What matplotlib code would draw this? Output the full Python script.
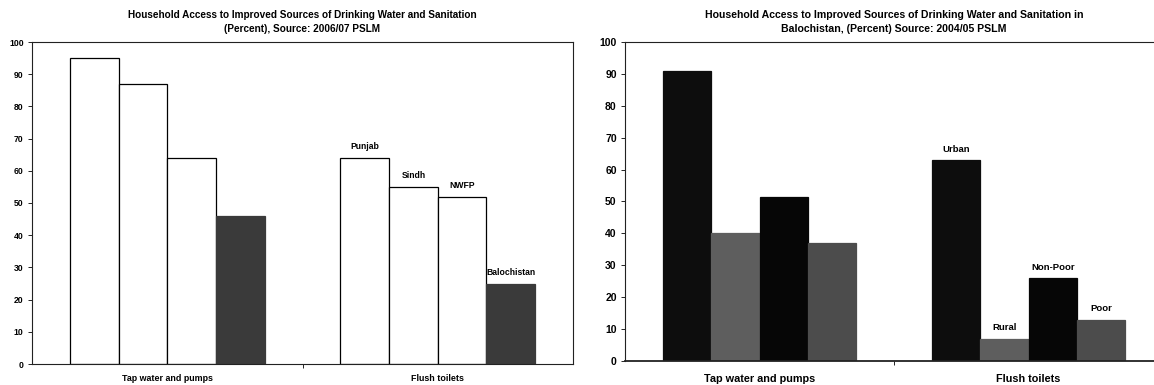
import matplotlib
matplotlib.use("Agg")
import matplotlib.pyplot as plt
import numpy as np

plt.rcParams['font.family'] = ['Liberation Sans', 'DejaVu Sans']
plt.rcParams['font.weight'] = 'bold'

groups = ["Tap water and pumps", "Flush toilets"]

left_series = ["Punjab", "Sindh", "NWFP", "Balochistan"]
left_values = [[95, 87, 64, 46],   # tap water
               [64, 55, 52, 25]]   # flush toilets
left_colors = ["white", "white", "white", "#3a3a3a"]

right_series = ["Urban", "Rural", "Non-Poor", "Poor"]
right_values = [[91, 40, 51.5, 37],
                [63, 7, 26, 13]]
right_colors = ["#0d0d0d", "#5e5e5e", "#060606", "#4c4c4c"]

left_title = "Household Access to Improved Sources of Drinking Water and Sanitation\n(Percent), Source: 2006/07 PSLM"
right_title = "Household Access to Improved Sources of Drinking Water and Sanitation in\nBalochistan, (Percent) Source: 2004/05 PSLM"

fig = plt.figure(figsize=(11.54, 3.85), dpi=100)
axL = fig.add_axes([32/1154, 21/385, 541/1154, 322/385])
axR = fig.add_axes([625/1154, 24/385, 538/1154, 319/385])

def draw(ax, values, series, colors, title, fs_tick, fs_lab, fs_xlab, fs_title, edge, xpad):
    n = len(series)
    w = 0.18
    x = np.arange(len(groups))
    vals = np.array(values)
    for i in range(n):
        pos = x + (i - (n - 1) / 2) * w
        bars = ax.bar(pos, vals[:, i], width=w, color=colors[i],
                      edgecolor=edge[i], linewidth=0.9)
        # label only on the second group
        b = bars[1]
        ax.text(b.get_x() + b.get_width() / 2, b.get_height() + 2.0, series[i],
                ha='center', va='bottom', fontsize=fs_lab, fontweight='bold')
    ax.set_xlim(-0.5, 1.5)
    ax.set_ylim(0, 100)
    ax.set_yticks(range(0, 101, 10))
    ax.set_xticks(x)
    ax.set_xticklabels(groups, fontsize=fs_xlab, fontweight='bold')
    ax.set_xticks([0.5], minor=True)
    ax.tick_params(axis='x', which='major', length=0, pad=xpad)
    ax.tick_params(axis='x', which='minor', length=3, direction='out', width=0.6)
    ax.tick_params(axis='y', length=3, width=0.6, labelsize=fs_tick, pad=3)
    for lab in ax.get_yticklabels():
        lab.set_fontweight('bold')
    for s in ax.spines.values():
        s.set_linewidth(0.8)
        s.set_color('#222222')
    ax.set_title(title, fontsize=fs_title, fontweight='bold', pad=7, linespacing=1.5)

draw(axL, left_values, left_series, left_colors, left_title, 6.2, 6.2, 6.4, 7.2,
     ["black", "black", "black", "#3a3a3a"], 7)
draw(axR, right_values, right_series, right_colors, right_title, 7.5, 6.8, 7.8, 7.6,
     right_colors, 9)
axR.spines['right'].set_visible(False)
axR.spines['bottom'].set_linewidth(1.3)

fig.savefig("out.png", dpi=100)
